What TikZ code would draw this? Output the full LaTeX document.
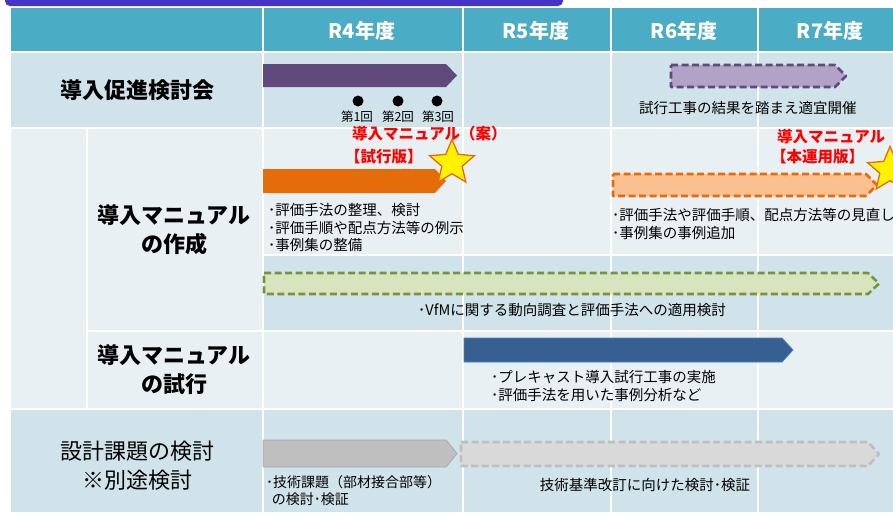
\documentclass[tikz,border=0pt]{standalone}
\usepackage{fontspec}
\setmainfont{Noto Sans CJK JP}
\usetikzlibrary{shapes.geometric}
\definecolor{hdr}{RGB}{75,172,198}
\definecolor{rowdark}{RGB}{209,227,234}
\definecolor{rowlight}{RGB}{233,240,244}
\definecolor{bandc}{RGB}{70,52,198}
\definecolor{purp}{RGB}{96,74,123}
\definecolor{purpl}{RGB}{179,162,199}
\definecolor{orng}{RGB}{228,108,10}
\definecolor{orngl}{RGB}{250,192,144}
\definecolor{grn}{RGB}{119,147,60}
\definecolor{grnl}{RGB}{215,228,189}
\definecolor{blu}{RGB}{55,96,146}
\definecolor{blul}{RGB}{79,129,189}
\definecolor{gry}{RGB}{191,191,191}
\definecolor{gryd}{RGB}{166,166,166}
\definecolor{gryl}{RGB}{217,217,217}
\definecolor{redtxt}{RGB}{255,0,0}
\tikzset{
  dashbar/.style={line width=2.6pt, dash pattern=on 7pt off 3.5pt, line join=round},
  hdrtext/.style={text=white, font=\bfseries\fontsize{20}{22}\selectfont},
  rowlabel/.style={font=\bfseries\fontsize{22}{29}\selectfont, align=center, inner sep=0pt},
  rowlabelr/.style={font=\fontsize{22}{29}\selectfont, align=center, inner sep=0pt},
  bodytext/.style={font=\fontsize{14.5}{17.5}\selectfont, align=left, inner sep=0pt, anchor=west},
  smalltext/.style={font=\fontsize{12.5}{14}\selectfont, inner sep=0pt},
  redlabel/.style={text=redtxt, font=\bfseries\fontsize{15.5}{18}\selectfont, inner sep=0pt, anchor=west},
  milestone/.style={star, star points=5, star point ratio=2.2, minimum size=47pt, inner sep=0pt,
    fill=yellow, draw=orng, line width=1.3pt},
  divider/.style={white, line width=2pt}
}
\newcommand\ganttbar[5]{%
  \path[#1] (#2,#3) -- ({#4-11},#3) -- (#4,{(#3+#5)/2}) -- ({#4-11},#5) -- (#2,#5) -- cycle;}
\begin{document}
\begin{tikzpicture}[x=1pt,y=-1pt]
\useasboundingbox (0,0) rectangle (893,512);
\clip (0,0) rectangle (893,512);
% background
\fill[white] (0,0) rectangle (893,512);
\fill[bandc, rounded corners=5pt] (5,-8) rectangle (563,6);
\fill[hdr] (11,8) rectangle (893,51);
\fill[rowdark] (11,51) rectangle (893,127);
\fill[rowlight] (11,127) rectangle (893,254);
\fill[rowlight] (11,254) rectangle (262,331);
\fill[rowdark] (262,254) rectangle (893,331);
\fill[rowlight] (11,331) rectangle (893,409);
\fill[rowdark] (11,409) rectangle (893,512);
% dividers
\draw[divider] (11,52) -- (893,52);
\draw[divider] (11,127.5) -- (893,127.5);
\draw[divider] (262,254.5) -- (893,254.5);
\draw[divider] (86,331) -- (893,331);
\draw[divider] (11,409) -- (893,409);
\foreach \xx in {262.5,462.5,610.5,757.5} \draw[divider] (\xx,8) -- (\xx,512);
\draw[divider] (86.5,127.5) -- (86.5,409);
% header
\node[hdrtext] (r4) at (362,31) {R4年度};
\node[hdrtext] (r5) at (536,31) {R5年度};
\node[hdrtext] (r6) at (684,31) {R6年度};
\node[hdrtext] (r7) at (830,31) {R7年度};
% row labels
\node[rowlabel] (l1) at (137,90) {導入促進検討会};
\node[rowlabel] (l2) at (174,230) {導入マニュアル\\の作成};
\node[rowlabel] (l3) at (174,370) {導入マニュアル\\の試行};
\node[rowlabelr] (l4) at (137,466) {設計課題の検討\\※別途検討};
% row 1
\ganttbar{fill=purp}{263}{64}{457}{87}
\ganttbar{fill=purpl, draw=purp, dashbar}{671}{65}{846}{87}
\fill (358,101) circle (5.5) (398,101) circle (5.5) (437,101) circle (5.5);
\node[smalltext] (m1) at (357,117) {第1回};
\node[smalltext] (m2) at (398,117) {第2回};
\node[smalltext] (m3) at (438,117) {第3回};
\node[bodytext] (t1) at (639,108) {試行工事の結果を踏まえ適宜開催};
% row 2
\ganttbar{fill=orng}{263}{169}{446}{193}
\ganttbar{fill=orngl, draw=orng, dashbar}{613}{174}{877}{196}
\node[milestone] (s1) at (452,163) {};
\node[milestone] (s2) at (890,170) {};
\node[redlabel] (rl1) at (352,134) {導入マニュアル（案）};
\node[redlabel] (rl2) at (345,157) {【試行版】};
\node[redlabel] (rl3) at (777,137) {導入マニュアル};
\node[redlabel] (rl4) at (771,157) {【本運用版】};
\node[bodytext] (t2) at (268,228) {･評価手法の整理、検討\\･評価手順や配点方法等の例示\\･事例集の整備};
\node[bodytext] (t3) at (612,224) {･評価手法や評価手順、配点方法等の見直し\\･事例集の事例追加};
\ganttbar{fill=grnl, draw=grn, dashbar}{264}{273}{879}{294}
\node[bodytext, anchor=center] (t4) at (572,310) {･VfMに関する動向調査と評価手法への適用検討};
% row 3
\ganttbar{fill=blu, draw=blul, line width=0.8pt}{464}{338}{793}{362}
\node[bodytext] (t5) at (491,386) {･プレキャスト導入試行工事の実施\\･評価手法を用いた事例分析など};
% row 4
\ganttbar{fill=gry, draw=gryd, line width=0.8pt}{263}{440}{457}{467}
\ganttbar{fill=gryl, draw=gry, dashbar}{461}{442}{879}{466}
\node[bodytext, font=\fontsize{14}{17}\selectfont] (t6) at (266,491) {･技術課題（部材接合部等）\\\hspace{0.4em}の検討･検証};
\node[bodytext, anchor=center] (t7) at (645,485) {技術基準改訂に向けた検討･検証};
\end{tikzpicture}
\end{document}
